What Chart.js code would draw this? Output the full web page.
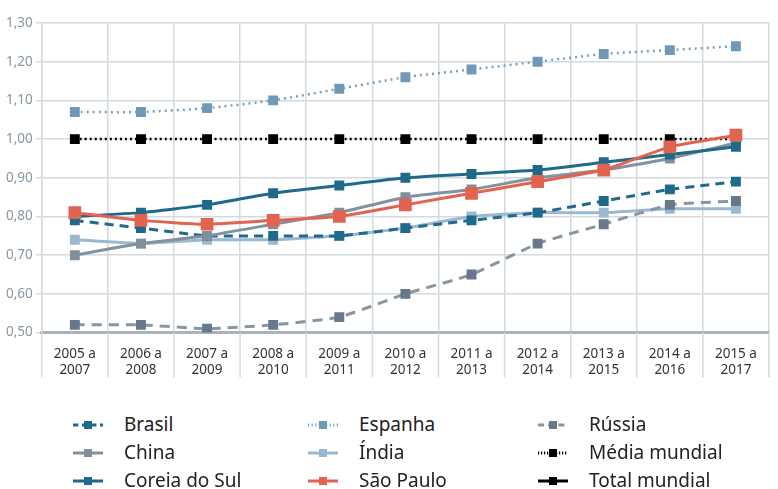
<!DOCTYPE html>
<html lang="pt-BR">
<head>
<meta charset="utf-8">
<script src="https://cdn.jsdelivr.net/npm/chart.js@4.4.1/dist/chart.umd.min.js"></script>
<style>
  html, body { margin: 0; padding: 0; background: #fff; }
  body { width: 778px; height: 489px; overflow: hidden; font-family: "Noto Sans", sans-serif; }
  #wrap { position: relative; width: 778px; height: 392px; }
  #legenda {
    display: grid;
    grid-template-columns: 235px 230px 230px;
    margin-left: 73px;
    margin-top: 20px;
    row-gap: 3px;
  }
  .item { display: flex; align-items: center; height: 25px; font-size: 19px; line-height: 25px; color: #222; }
  .item canvas { margin-right: 21px; }
</style>
</head>
<body>
<div id="wrap"><canvas id="grafico" width="778" height="392"></canvas></div>
<div id="legenda"></div>

<script>
// Períodos (eixo X)
const periodos = [
  ['2005 a', '2007'], ['2006 a', '2008'], ['2007 a', '2009'], ['2008 a', '2010'],
  ['2009 a', '2011'], ['2010 a', '2012'], ['2011 a', '2013'], ['2012 a', '2014'],
  ['2013 a', '2015'], ['2014 a', '2016'], ['2015 a', '2017']
];

// Séries
const brasil       = [0.79, 0.77, 0.75, 0.75, 0.75, 0.77, 0.79, 0.81, 0.84, 0.87, 0.89];
const espanha      = [1.07, 1.07, 1.08, 1.10, 1.13, 1.16, 1.18, 1.20, 1.22, 1.23, 1.24];
const russia       = [0.52, 0.52, 0.51, 0.52, 0.54, 0.60, 0.65, 0.73, 0.78, 0.83, 0.84];
const china        = [0.70, 0.73, 0.75, 0.78, 0.81, 0.85, 0.87, 0.90, 0.92, 0.95, 0.99];
const india        = [0.74, 0.73, 0.74, 0.74, 0.75, 0.77, 0.80, 0.81, 0.81, 0.82, 0.82];
const mediaMundial = [1.00, 1.00, 1.00, 1.00, 1.00, 1.00, 1.00, 1.00, 1.00, 1.00, 1.00];
const coreiaDoSul  = [0.80, 0.81, 0.83, 0.86, 0.88, 0.90, 0.91, 0.92, 0.94, 0.96, 0.98];
const saoPaulo     = [0.81, 0.79, 0.78, 0.79, 0.80, 0.83, 0.86, 0.89, 0.92, 0.98, 1.01];
const totalMundial = [null, null, null, null, null, null, null, null, null, null, 1.00];

// Eixo Y
const yMin = 0.5;
const yMax = 1.3;
const yPasso = 0.1;

const corGrade = '#d3dae0';

function serie(label, data, cor, corPonto, dash, largura, tamanho, ordem) {
  return {
    label: label,
    data: data,
    borderColor: cor,
    backgroundColor: corPonto,
    pointBackgroundColor: corPonto,
    pointBorderColor: corPonto,
    borderDash: dash,
    borderWidth: largura,
    pointStyle: 'rect',
    pointRadius: tamanho,
    pointHoverRadius: tamanho,
    pointBorderWidth: 0,
    tension: 0.15,
    order: ordem,
    spanGaps: true
  };
}

const series = [
  serie('Brasil', brasil, '#1f6a8b', '#1f6a8b', [9, 6], 3, 7, 5),
  serie('Espanha', espanha, '#7aa0bd', '#7099b8', [2, 4], 2.5, 7, 6),
  serie('Rússia', russia, '#8796a2', '#66788a', [10, 7], 3, 7, 7),
  serie('China', china, '#82929e', '#7f8f9b', [], 3, 7, 3),
  serie('Índia', india, '#9ab8cf', '#9ab8cf', [], 3, 7, 8),
  serie('Média mundial', mediaMundial, '#000000', '#000000', [2, 3], 2.5, 7, 4),
  serie('Coreia do Sul', coreiaDoSul, '#1f6a8b', '#1f6a8b', [], 3, 7, 2),
  serie('São Paulo', saoPaulo, '#e0644f', '#e0644f', [], 3, 9, 1),
  serie('Total mundial', totalMundial, '#000000', '#000000', [], 3, 7, 9)
];

// prolonga as linhas verticais da grade por baixo do eixo X, entre os rótulos
const gradeAbaixo = {
  id: 'gradeAbaixo',
  beforeDatasetsDraw(chart) {
    const x = chart.scales.x;
    const area = chart.chartArea;
    const ctx = chart.ctx;
    const n = chart.data.labels.length;
    const xs = [area.left];
    for (let i = 1; i < n; i++) xs.push((x.getPixelForValue(i - 1) + x.getPixelForValue(i)) / 2);
    xs.push(area.right);
    ctx.save();
    ctx.strokeStyle = corGrade;
    ctx.lineWidth = 1.5;
    xs.forEach(px => {
      ctx.beginPath();
      ctx.moveTo(px, area.bottom);
      ctx.lineTo(px, area.bottom + 45);
      ctx.stroke();
    });
    ctx.restore();
  }
};

const grafico = new Chart(document.getElementById('grafico'), {
  type: 'line',
  data: { labels: periodos, datasets: series },
  options: {
    responsive: false,
    animation: false,
    layout: { padding: { top: 23, left: 3, right: 0, bottom: 1 } },
    plugins: { legend: { display: false }, tooltip: { enabled: false } },
    scales: {
      x: {
        offset: true,
        grid: { offset: true, color: corGrade, lineWidth: 1.5, drawTicks: false },
        border: { color: '#a8b3bc', width: 3 },
        ticks: { padding: 13, color: '#333', font: { family: 'Noto Sans', size: 13.5 }, maxRotation: 0 }
      },
      y: {
        min: yMin,
        max: yMax,
        grid: { color: corGrade, lineWidth: 1.5, tickLength: 6 },
        border: { color: corGrade, width: 1.5 },
        ticks: {
          stepSize: yPasso,
          padding: 3,
          color: '#8797a3',
          font: { family: 'Noto Sans', size: 13.5 },
          callback: v => v.toFixed(2).replace('.', ',')
        }
      }
    }
  },
  plugins: [gradeAbaixo]
});

// Legenda em três colunas
const legenda = document.getElementById('legenda');
series.forEach(ds => {
  const item = document.createElement('div');
  item.className = 'item';
  const c = document.createElement('canvas');
  c.width = 30; c.height = 14;
  const ctx = c.getContext('2d');
  ctx.strokeStyle = ds.borderColor;
  ctx.lineWidth = 3;
  ctx.setLineDash(ds.borderDash.length ? ds.borderDash.map(d => d * 0.6) : []);
  ctx.beginPath(); ctx.moveTo(0, 7); ctx.lineTo(30, 7); ctx.stroke();
  ctx.fillStyle = ds.pointBackgroundColor;
  ctx.fillRect(11, 3, 8, 8);
  const t = document.createElement('span');
  t.textContent = ds.label;
  item.appendChild(c);
  item.appendChild(t);
  legenda.appendChild(item);
});
</script>
</body>
</html>
